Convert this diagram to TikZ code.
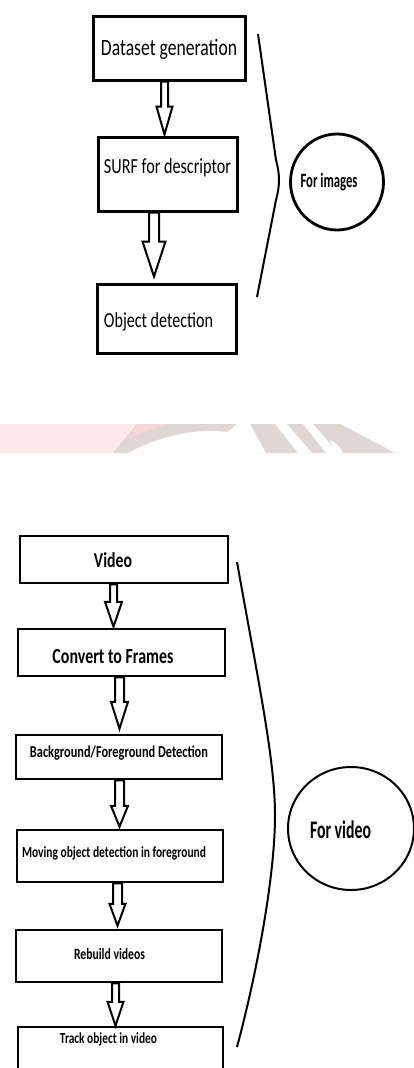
\documentclass[tikz,border=0pt]{standalone}
\usepackage{fontspec}
\setmainfont{Carlito}
\usepackage{graphicx}
\usetikzlibrary{calc,shapes.geometric}
\newcommand\stxt[3]{\resizebox{#1pt}{!}{\scalebox{1}[#2]{#3}}}
\newcommand\barrow[7]{%
\draw[blockarrow] let \p1=(#1.south), \p2=(#2.north) in
 ({(#3-#4)*1pt},\y1) -- ({(#3+#4)*1pt},\y1) -- ({(#3+#4)*1pt},{\y2+#7pt+#6pt}) -- ({(#3+#5)*1pt},{\y2+#7pt+#6pt}) -- ({#3*1pt},{\y2+#7pt}) -- ({(#3-#5)*1pt},{\y2+#7pt+#6pt}) -- ({(#3-#4)*1pt},{\y2+#7pt+#6pt}) -- cycle;}
\definecolor{wmgray}{RGB}{222,215,212}
\definecolor{wmpink}{RGB}{253,233,232}
\definecolor{wmpink2}{RGB}{246,214,212}
\tikzset{
  box/.style={draw=black, line width=3pt, rectangle, inner sep=0pt, fill=white},
  vbox/.style={draw=black, line width=2.5pt, rectangle, inner sep=0pt, fill=white},
  blockarrow/.style={draw=black, line width=2pt, fill=white, line join=miter},
  brace/.style={draw=black, line width=2pt},
  lbl/.style={inner sep=0pt},
}
\begin{document}
\begin{tikzpicture}[x=1pt,y=-1pt]
\useasboundingbox (0,0) rectangle (414,1068);
\clip (0,0) rectangle (414,1068);
\fill[white] (0,0) rectangle (414,1068);
% watermark band
\fill[wmpink] (0,424) rectangle (140,453);
\fill[wmgray] (137,424) -- (340,424) -- (395,453) -- (113,453) -- cycle;
\fill[wmpink2] (137,424) -- (167,424) -- (150,430) -- (128,438) -- cycle;
\fill[white] (128,453) .. controls (160,436) and (195,428) .. (228,432) -- (237,424) -- (250,424) -- (266,453) -- cycle;
\fill[white] (275,424) -- (287,424) -- (312,453) -- (298,453) -- cycle;
\fill[white] (303,424) -- (313,424) -- (338,453) -- (326,453) -- cycle;
\fill[white] (330,440) .. controls (336,442) and (340,447) .. (343,453) -- (335,453) -- cycle;
% top section
\node[box, minimum width=152pt, minimum height=64pt] (b1) at (169,48) {};
\node[box, minimum width=139pt, minimum height=74pt] (b2) at (167.5,174) {};
\node[box, minimum width=139pt, minimum height=69pt] (b3) at (166.5,318.5) {};
\node[lbl] (t1) at (169,49) {\stxt{136}{1.33}{Dataset generation}};
\node[lbl] (t2) at (167.5,168) {\stxt{127}{1.33}{SURF for descriptor}};
\node[lbl] (t3) at (158.5,322) {\stxt{109}{1.33}{Object detection}};
\barrow{b1}{b2}{164.5}{3.5}{8}{28}{1}
\barrow{b2}{b3}{154}{5}{11.5}{35}{6}
\coordinate (c1) at (258,34);
\coordinate (c2) at (279,180);
\coordinate (c3) at (257,297);
\draw[brace] (c1) -- (276,160) .. controls (280,175) and (280,185) .. (276,200) -- (c3);
\node[draw=black, line width=2.8pt, ellipse, minimum width=93pt, minimum height=96pt, inner sep=0pt] (ci1) at (337,182) {};
\node[lbl] (t4) at (329,182) {\bfseries\stxt{57}{1.6}{For images}};
% bottom section
\node[vbox, minimum width=208pt, minimum height=47pt] (v1) at (124,559.5) {};
\node[vbox, minimum width=207pt, minimum height=47pt] (v2) at (121.5,652.5) {};
\node[vbox, minimum width=206pt, minimum height=44pt] (v3) at (119,757) {};
\node[vbox, minimum width=206pt, minimum height=52pt] (v4) at (120,856) {};
\node[vbox, minimum width=206pt, minimum height=52pt] (v5) at (119,956) {};
\node[vbox, minimum width=205pt, minimum height=60pt] (v6) at (120.5,1057) {};
\node[lbl] (u1) at (113,560) {\bfseries\stxt{38}{1.35}{Video}};
\node[lbl] (u2) at (113,657) {\bfseries\stxt{121}{1.35}{Convert to Frames}};
\node[lbl] (u3) at (119,753) {\bfseries\stxt{178}{1.35}{Background/Foreground Detection}};
\node[lbl] (u4) at (114,853) {\bfseries\stxt{184}{1.35}{Moving object detection in foreground}};
\node[lbl] (u5) at (109.5,954) {\bfseries\stxt{71}{1.35}{Rebuild videos}};
\node[lbl] (u6) at (108.5,1039) {\bfseries\stxt{97}{1.35}{Track object in video}};
\barrow{v1}{v2}{113.5}{3.5}{8.5}{25}{1}
\barrow{v2}{v3}{119.5}{4.5}{8.5}{27}{5}
\barrow{v3}{v4}{119.5}{4.5}{8.5}{21}{2}
\barrow{v4}{v5}{117.5}{4.5}{8}{22}{3}
\barrow{v5}{v6}{115.5}{3.5}{8}{24}{0}
\coordinate (d1) at (237,562);
\coordinate (d2) at (275,815);
\coordinate (d3) at (237,1047);
\draw[brace] (d1) .. controls (258,680) and (275,760) .. (d2) .. controls (275,880) and (255,980) .. (d3);
\node[draw=black, line width=2pt, ellipse, minimum width=126pt, minimum height=123pt, inner sep=0pt] (ci2) at (351,828.5) {};
\node[lbl] (u7) at (340.5,830) {\bfseries\stxt{61}{1.6}{For video}};
\end{tikzpicture}
\end{document}
